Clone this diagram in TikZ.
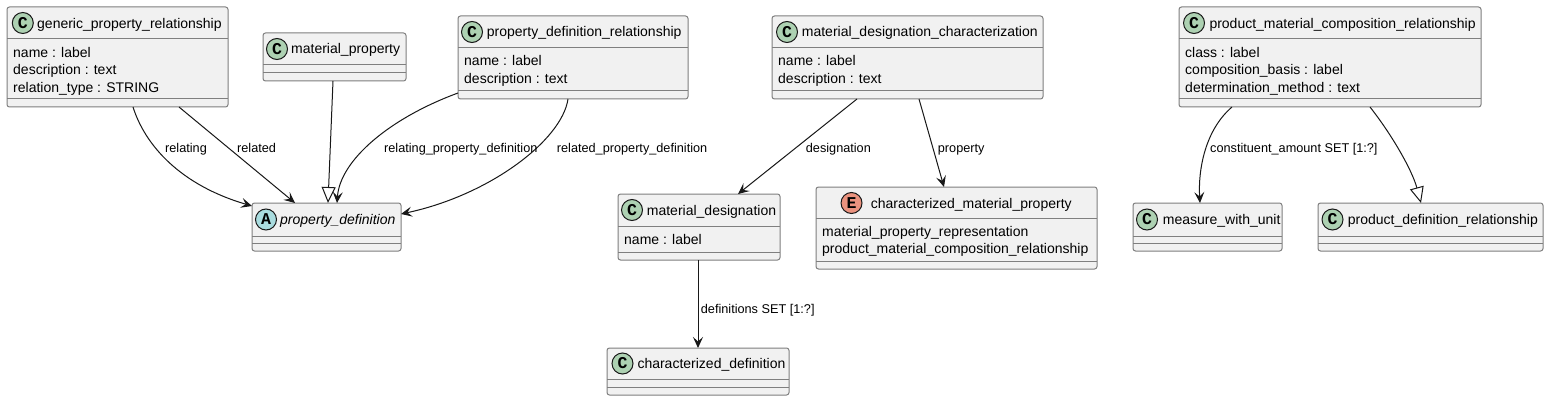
\documentclass[tikz,border=0pt]{standalone}
\usepackage{fontspec}
\setmainfont{Liberation Sans}
\newfontfamily\iconfont{Liberation Mono}
\usetikzlibrary{arrows.meta}
\definecolor{boxfill}{HTML}{F1F1F1}
\definecolor{boxborder}{HTML}{7F7F7F}
\definecolor{linec}{HTML}{181818}
\definecolor{cgreen}{HTML}{ADD1B2}
\definecolor{acyan}{HTML}{A9DCDF}
\definecolor{ered}{HTML}{EB937F}
\tikzset{
 umlbox/.style={draw=boxborder, line width=1pt, fill=boxfill, rounded corners=2.5pt, inner sep=0pt, outer sep=0pt},
 sepline/.style={draw=boxborder, line width=1pt},
 icon/.style={circle, draw=linec, line width=1pt, minimum size=21pt, inner sep=0pt, font=\iconfont\bfseries\fontsize{16.5}{16.5}\selectfont},
 title/.style={anchor=base west, inner sep=0pt, font=\fontsize{14}{16}\selectfont},
 attr/.style={anchor=base west, inner sep=0pt, font=\fontsize{14}{16}\selectfont},
 lbl/.style={anchor=base west, inner sep=0pt, font=\fontsize{12.7}{14}\selectfont},
 assoc/.style={draw=linec, line width=1pt, -{Stealth[length=11pt,width=10pt,inset=4.5pt]}},
 inherit/.style={draw=linec, line width=1pt, -{Triangle[open,length=16pt,width=14pt]}},
}
\newcommand\umlclass[7]{%
  \pgfmathsetmacro\bw{#4-#2}\pgfmathsetmacro\bh{#5-#3}%
  \pgfmathsetmacro\cx{(#2+#4)/2}\pgfmathsetmacro\cy{(#3+#5)/2}%
  \node[umlbox, minimum width=\bw pt, minimum height=\bh pt] (#1) at (\cx,\cy) {};
  \draw[sepline] (#1.west |- 0,#6) -- (#1.east |- 0,#6);
  \draw[sepline] (#1.west |- 0,#7) -- (#1.east |- 0,#7);
}
\begin{document}
\begin{tikzpicture}[x=1pt,y=-1pt]
\useasboundingbox (0,0) rectangle (1549,401);
\fill[white] (0,0) rectangle (1549,401);

% generic_property_relationship
\umlclass{gpr}{7}{7}{228}{107}{39}{99}
\node[icon, fill=cgreen] (gpr-i) at (22.8,23) {C};
\node[title] (gpr-t) at (37,28.3) {generic\_property\_relationship};
\node[attr] (gpr-a1) at (13,57.5) {name : label};
\node[attr] (gpr-a2) at (13,75) {description : text};
\node[attr] (gpr-a3) at (13,92.5) {relation\_type : STRING};

% material_property
\umlclass{mp}{263}{33}{406}{81}{65}{73}
\node[icon, fill=cgreen] (mp-i) at (277,49) {C};
\node[title] (mp-t) at (291,54) {material\_property};

% property_definition
\umlclass{pd}{252}{203}{401}{251}{236}{243}
\node[icon, fill=acyan] (pd-i) at (266,219.5) {A};
\node[title] (pd-t) at (280,224.5) {\itshape property\_definition};

% property_definition_relationship
\umlclass{pdr}{458}{16}{688}{99}{48}{91}
\node[icon, fill=cgreen] (pdr-i) at (472,32) {C};
\node[title] (pdr-t) at (486.7,37) {property\_definition\_relationship};
\node[attr] (pdr-a1) at (464,66) {name : label};
\node[attr] (pdr-a2) at (464,83.5) {description : text};

% material_designation_characterization
\umlclass{mdc}{772}{16}{1043}{99}{48}{91}
\node[icon, fill=cgreen] (mdc-i) at (787,32) {C};
\node[title] (mdc-t) at (801.7,37) {material\_designation\_characterization};
\node[attr] (mdc-a1) at (778,66) {name : label};
\node[attr] (mdc-a2) at (778,83.5) {description : text};

% material_designation
\umlclass{md}{618}{194}{780}{260}{226}{252}
\node[icon, fill=cgreen] (md-i) at (632,210) {C};
\node[title] (md-t) at (646.7,215) {material\_designation};
\node[attr] (md-a1) at (624,244) {name : label};

% characterized_material_property
\umlclass{cmp}{816}{187}{1097}{269}{218}{261}
\node[icon, fill=ered] (cmp-i) at (851.5,203) {E};
\node[title] (cmp-t) at (870.7,208) {characterized\_material\_property};
\node[attr] (cmp-a1) at (822,236) {material\_property\_representation};
\node[attr] (cmp-a2) at (822,253.5) {product\_material\_composition\_relationship};

% characterized_definition
\umlclass{cd}{607}{348}{789}{395}{379}{387}
\node[icon, fill=cgreen] (cd-i) at (622.5,363.5) {C};
\node[title] (cd-t) at (637.3,368.5) {characterized\_definition};

% product_material_composition_relationship
\umlclass{pmcr}{1179}{7}{1481}{107}{39}{99}
\node[icon, fill=cgreen] (pmcr-i) at (1194,23) {C};
\node[title] (pmcr-t) at (1209.3,28.3) {product\_material\_composition\_relationship};
\node[attr] (pmcr-a1) at (1185,57.5) {class : label};
\node[attr] (pmcr-a2) at (1185,75) {composition\_basis : label};
\node[attr] (pmcr-a3) at (1185,92.5) {determination\_method : text};

% measure_with_unit
\umlclass{mwu}{1133}{203}{1282}{251}{236}{243}
\node[icon, fill=cgreen] (mwu-i) at (1147,219.5) {C};
\node[title] (mwu-t) at (1162.7,224.5) {measure\_with\_unit};

% product_definition_relationship
\umlclass{pdrel}{1318}{203}{1543}{251}{236}{243}
\node[icon, fill=cgreen] (pdrel-i) at (1332.5,219.5) {C};
\node[title] (pdrel-t) at (1347.7,224.5) {product\_definition\_relationship};

% connectors
\draw[assoc] (gpr.south -| 133,0) .. controls (145,145) and (180,185) .. (pd.west |- 0,206);
\draw[assoc] (gpr.south -| 179,0) -- (pd.north -| 295,0);
\draw[inherit] (mp.south -| 333,0) -- (pd.north -| 328,0);
\draw[assoc] (pdr.west |- 0,93) .. controls (390,118) and (340,160) .. (pd.north -| 337,0);
\draw[assoc] (pdr.south -| 568,0) .. controls (562,140) and (490,195) .. (pd.east |- 0,214);
\draw[assoc] (mdc.south -| 857,0) -- (md.north -| 738,0);
\draw[assoc] (mdc.south -| 919,0) -- (cmp.north -| 944,0);
\draw[assoc] (md.south -| 698,0) -- (cd.north -| 698,0);
\draw[assoc] (pmcr.south -| 1232,0) .. controls (1205,130) and (1198,170) .. (mwu.north -| 1200,0);
\draw[inherit] (pmcr.south -| 1370,0) .. controls (1392,135) and (1412,170) .. (pdrel.north -| 1421,0);

% labels
\node[lbl] (l1) at (165,152) {relating};
\node[lbl] (l2) at (237,152) {related};
\node[lbl] (l3) at (384,152) {relating\_property\_definition};
\node[lbl] (l4) at (556.7,152) {related\_property\_definition};
\node[lbl] (l5) at (805.7,152) {designation};
\node[lbl] (l6) at (937.7,152) {property};
\node[lbl] (l7) at (700.7,313) {definitions SET [1:?]};
\node[lbl] (l8) at (1210,152) {constituent\_amount SET [1:?]};
\end{tikzpicture}
\end{document}
